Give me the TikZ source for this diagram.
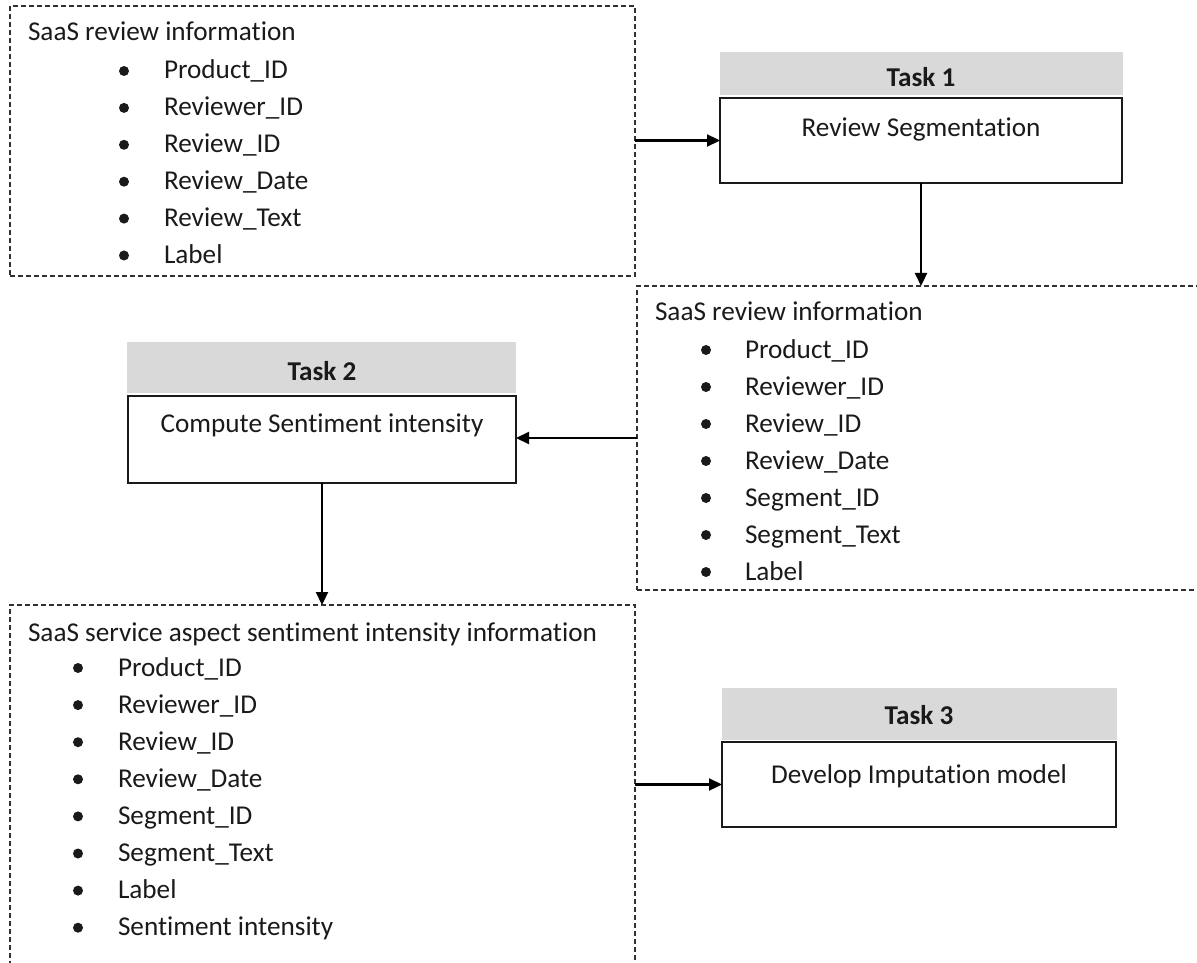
\documentclass[tikz,border=0pt]{standalone}
\usepackage{fontspec}
\setmainfont{Carlito}[RawFeature={-liga;-clig;-calt;-dlig}]
\usetikzlibrary{arrows.meta}
\definecolor{hdrgrey}{HTML}{D9D9D9}
\definecolor{ink}{HTML}{1A1A1A}
\begin{document}
\begin{tikzpicture}[x=0.5pt,y=-0.5pt,
  every node/.style={inner sep=0pt, outer sep=0pt, text=ink,
    font=\fontsize{13.6}{16}\selectfont},
  infobox/.style={draw=ink!90, line width=0.6pt,
    dash pattern=on 2.5pt off 1.5pt, anchor=north west},
  taskhead/.style={fill=hdrgrey, anchor=north west},
  taskbody/.style={draw=ink, line width=0.9pt, fill=white, anchor=north west},
  tasklabel/.style={anchor=base, font=\fontsize{13.6}{16}\selectfont\bfseries},
  tasktext/.style={anchor=base},
  itemtext/.style={anchor=base west},
  dot/.style={circle, fill=ink, minimum size=5pt},
  flow/.style={draw=black, line width=1.1pt,
    -{Triangle[length=6.5pt,width=6pt]}},
]
\useasboundingbox (0,0) rectangle (1197,962);

% dashed information boxes
\node[infobox, minimum width=312.5pt, minimum height=135pt] (infoA) at (10,6) {};
\node[infobox, minimum width=285pt, minimum height=152pt] (infoB) at (637,286) {};
\node[infobox, minimum width=312.5pt, minimum height=185pt] (infoC) at (10,605) {};

% task boxes: grey header above a framed body
\node[taskhead, minimum width=201.5pt, minimum height=21.5pt] (head1) at (720,52) {};
\node[taskbody, minimum width=201pt, minimum height=42.5pt] (task1) at (720,98) {};
\node[tasklabel] (lbl1) at (921,87) {Task 1};
\node[tasktext] (txt1) at (921,137) {Review Segmentation};

\node[taskhead, minimum width=194.5pt, minimum height=25.5pt] (head2) at (127,342) {};
\node[taskbody, minimum width=194pt, minimum height=43.5pt] (task2) at (128,396) {};
\node[tasklabel] (lbl2) at (322,380) {Task 2};
\node[tasktext] (txt2) at (322,432) {Compute Sentiment intensity};

\node[taskhead, minimum width=197.5pt, minimum height=26pt] (head3) at (722,688) {};
\node[taskbody, minimum width=197pt, minimum height=42.5pt] (task3) at (722,742) {};
\node[tasklabel] (lbl3) at (919,724) {Task 3};
\node[tasktext] (txt3) at (919,783) {Develop Imputation model};

% contents of the information boxes
\node[itemtext] (titleA) at (28,41) {SaaS review information};
\foreach \t [count=\i] in {Product\_ID, Reviewer\_ID, Review\_ID,
    Review\_Date, Review\_Text, Label} {
  \node[itemtext] (itemA\i) at (164,{79+36.9*(\i-1)}) {\t};
  \node[dot] (dotA\i) at (124,{71+36.9*(\i-1)}) {};
}

\node[itemtext] (titleB) at (655,321) {SaaS review information};
\foreach \t [count=\i] in {Product\_ID, Reviewer\_ID, Review\_ID,
    Review\_Date, Segment\_ID, Segment\_Text, Label} {
  \node[itemtext] (itemB\i) at (745,{358+37*(\i-1)}) {\t};
  \node[dot] (dotB\i) at (706,{350+37*(\i-1)}) {};
}

\node[itemtext] (titleC) at (28,641) {SaaS service aspect sentiment intensity information};
\foreach \t [count=\i] in {Product\_ID, Reviewer\_ID, Review\_ID,
    Review\_Date, Segment\_ID, Segment\_Text, Label, Sentiment intensity} {
  \node[itemtext] (itemC\i) at (118,{676+37.1*(\i-1)}) {\t};
  \node[dot] (dotC\i) at (78,{668+37.1*(\i-1)}) {};
}

% flow between data and tasks
\draw[flow] (infoA.east |- task1.west) -- (task1.west);
\draw[flow] (task1.south) -- (task1.south |- infoB.north);
\draw[flow] (infoB.west) -- (infoB.west -| task2.east);
\draw[flow] (task2.south) -- (task2.south |- infoC.north);
\draw[flow] (infoC.east |- task3.west) -- (task3.west);
\end{tikzpicture}
\end{document}
